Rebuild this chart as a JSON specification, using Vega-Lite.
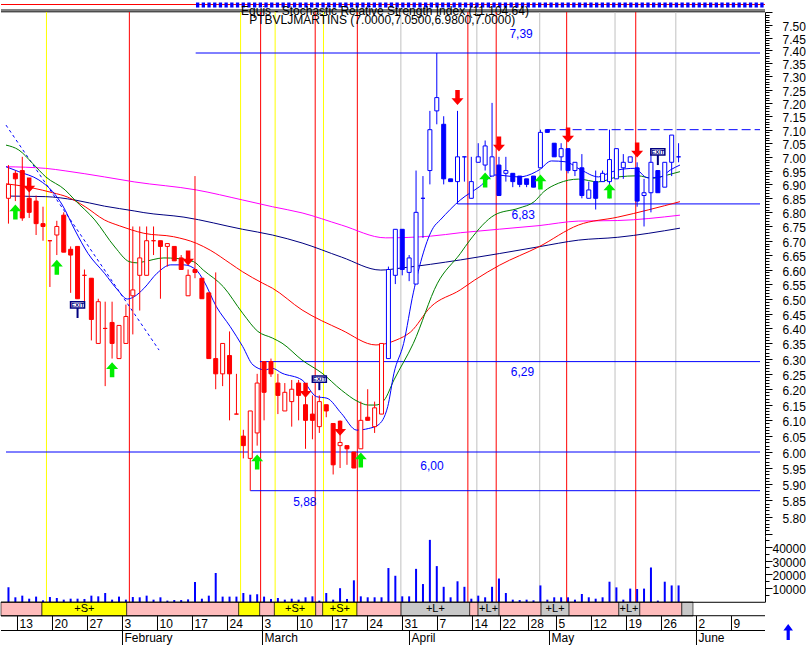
{
"$schema": "https://vega.github.io/schema/vega-lite/v6.json",
"padding": 0, "spacing": 0, "bounds": "flush", "background": "white",
"config": {"view": {"stroke": null}, "text": {"font": "Liberation Sans"}, "axis": {"labelFont": "Liberation Sans"}},
"datasets": {
"c": [
{"k":0,"o":6.85,"h":6.97,"l":6.76,"c":6.90,"v":10600},{"k":1,"o":6.94,"h":6.95,"l":6.84,"c":6.92,"v":3400},{"k":2,"o":6.95,"h":7.00,"l":6.77,"c":6.78,"v":4600},{"k":3,"o":6.85,"h":6.89,"l":6.78,"c":6.80,"v":2400},{"k":4,"o":6.84,"h":6.86,"l":6.72,"c":6.76,"v":3900},{"k":5,"o":6.76,"h":6.82,"l":6.70,"c":6.75,"v":1200},{"k":6,"o":6.70,"h":6.70,"l":6.54,"c":6.70,"v":3600},{"k":7,"o":6.72,"h":6.77,"l":6.65,"c":6.75,"v":2900},{"k":8,"o":6.79,"h":6.80,"l":6.66,"c":6.66,"v":1700},{"k":9,"o":6.67,"h":6.68,"l":6.52,"c":6.65,"v":2400},
{"k":10,"o":6.68,"h":6.68,"l":6.50,"c":6.50,"v":2400},{"k":11,"o":6.58,"h":6.60,"l":6.49,"c":6.58,"v":2200},{"k":12,"o":6.57,"h":6.57,"l":6.36,"c":6.43,"v":4600},{"k":13,"o":6.35,"h":6.50,"l":6.35,"c":6.49,"v":4100},{"k":14,"o":6.40,"h":6.49,"l":6.21,"c":6.40,"v":6500},{"k":15,"o":6.42,"h":6.49,"l":6.30,"c":6.35,"v":1700},{"k":16,"o":6.30,"h":6.41,"l":6.30,"c":6.41,"v":3900},{"k":17,"o":6.35,"h":6.48,"l":6.35,"c":6.44,"v":1700},{"k":18,"o":6.51,"h":6.75,"l":6.38,"c":6.53,"v":3600},{"k":19,"o":6.58,"h":6.75,"l":6.46,"c":6.64,"v":3400},
{"k":20,"o":6.58,"h":6.75,"l":6.58,"c":6.70,"v":4600},{"k":21,"o":6.70,"h":6.75,"l":6.65,"c":6.70,"v":1700},{"k":22,"o":6.70,"h":6.70,"l":6.50,"c":6.68,"v":3400},{"k":23,"o":6.68,"h":6.69,"l":6.61,"c":6.69,"v":1000},{"k":24,"o":6.68,"h":6.68,"l":6.63,"c":6.63,"v":1400},{"k":25,"o":6.64,"h":6.65,"l":6.60,"c":6.60,"v":1400},{"k":26,"o":6.51,"h":6.60,"l":6.51,"c":6.58,"v":1900},{"k":27,"o":6.60,"h":6.93,"l":6.57,"c":6.59,"v":14500},{"k":28,"o":6.57,"h":6.57,"l":6.50,"c":6.50,"v":2400},{"k":29,"o":6.52,"h":6.52,"l":6.30,"c":6.30,"v":4600},
{"k":30,"o":6.30,"h":6.59,"l":6.20,"c":6.25,"v":21000},{"k":31,"o":6.25,"h":6.35,"l":6.21,"c":6.35,"v":3900},{"k":32,"o":6.31,"h":6.39,"l":6.10,"c":6.25,"v":3900},{"k":33,"o":6.12,"h":6.25,"l":6.12,"c":6.12,"v":3900},{"k":34,"o":6.05,"h":6.07,"l":5.98,"c":6.02,"v":6500},{"k":35,"o":5.98,"h":6.13,"l":5.88,"c":6.13,"v":5300},{"k":36,"o":6.06,"h":6.25,"l":6.02,"c":6.22,"v":5600},{"k":37,"o":6.29,"h":6.29,"l":6.10,"c":6.19,"v":3900},{"k":38,"o":6.29,"h":6.30,"l":6.24,"c":6.25,"v":2200},{"k":39,"o":6.22,"h":6.25,"l":6.12,"c":6.18,"v":2900},
{"k":40,"o":6.13,"h":6.22,"l":6.13,"c":6.19,"v":1700},{"k":41,"o":6.16,"h":6.23,"l":6.08,"c":6.20,"v":2400},{"k":42,"o":6.22,"h":6.23,"l":6.10,"c":6.18,"v":1700},{"k":43,"o":6.15,"h":6.18,"l":6.01,"c":6.10,"v":3400},{"k":44,"o":6.12,"h":6.18,"l":6.04,"c":6.10,"v":4100},{"k":45,"o":6.08,"h":6.18,"l":6.06,"c":6.16,"v":1000},{"k":46,"o":6.15,"h":6.15,"l":6.11,"c":6.13,"v":6500},{"k":47,"o":6.09,"h":6.09,"l":5.93,"c":5.96,"v":1700},{"k":48,"o":6.02,"h":6.10,"l":5.95,"c":6.03,"v":10000},{"k":49,"o":6.02,"h":6.02,"l":5.96,"c":6.01,"v":2200},
{"k":50,"o":6.00,"h":6.00,"l":5.95,"c":5.95,"v":15700},{"k":51,"o":6.01,"h":6.16,"l":6.01,"c":6.10,"v":4100},{"k":52,"o":6.11,"h":6.20,"l":6.10,"c":6.10,"v":3400},{"k":53,"o":6.08,"h":6.16,"l":6.06,"c":6.14,"v":3400},{"k":54,"o":6.12,"h":6.35,"l":6.12,"c":6.35,"v":3400},{"k":55,"o":6.30,"h":6.61,"l":6.30,"c":6.60,"v":24600},{"k":56,"o":6.58,"h":6.74,"l":6.55,"c":6.74,"v":19000},{"k":57,"o":6.74,"h":6.74,"l":6.58,"c":6.60,"v":4100},{"k":58,"o":6.59,"h":6.65,"l":6.56,"c":6.64,"v":4100},{"k":59,"o":6.55,"h":6.95,"l":6.55,"c":6.80,"v":24000},
{"k":60,"o":6.85,"h":6.93,"l":6.71,"c":6.85,"v":13000},{"k":61,"o":6.95,"h":7.17,"l":6.90,"c":7.10,"v":45000},{"k":62,"o":7.17,"h":7.39,"l":7.12,"c":7.22,"v":26000},{"k":63,"o":7.12,"h":7.15,"l":6.90,"c":6.92,"v":11000},{"k":64,"o":6.92,"h":6.92,"l":6.91,"c":6.91,"v":3400},{"k":65,"o":6.91,"h":7.17,"l":6.83,"c":7.00,"v":15000},{"k":66,"o":7.00,"h":7.00,"l":6.91,"c":7.00,"v":11000},{"k":67,"o":6.85,"h":7.00,"l":6.85,"c":6.91,"v":2400},{"k":68,"o":6.98,"h":7.05,"l":6.98,"c":7.00,"v":4600},{"k":69,"o":6.97,"h":7.06,"l":6.95,"c":7.04,"v":3400},
{"k":70,"o":6.93,"h":7.20,"l":6.93,"c":7.00,"v":11000},{"k":71,"o":6.97,"h":7.00,"l":6.86,"c":6.86,"v":17000},{"k":72,"o":6.94,"h":7.00,"l":6.91,"c":6.95,"v":6500},{"k":73,"o":6.94,"h":6.94,"l":6.89,"c":6.91,"v":1700},{"k":74,"o":6.93,"h":6.93,"l":6.89,"c":6.90,"v":1400},{"k":75,"o":6.92,"h":6.92,"l":6.89,"c":6.90,"v":1700},{"k":76,"o":6.93,"h":6.93,"l":6.89,"c":6.89,"v":1200},{"k":77,"o":6.96,"h":7.10,"l":6.96,"c":7.09,"v":12000},{"k":78,"o":7.10,"h":7.10,"l":7.09,"c":7.09,"v":1700},{"k":79,"o":7.05,"h":7.05,"l":7.00,"c":7.00,"v":3400},
{"k":80,"o":7.00,"h":7.05,"l":6.95,"c":7.03,"v":3400},{"k":81,"o":7.03,"h":7.03,"l":6.94,"c":6.95,"v":3400},{"k":82,"o":6.95,"h":6.98,"l":6.93,"c":6.98,"v":1700},{"k":83,"o":6.96,"h":7.01,"l":6.85,"c":6.86,"v":5800},{"k":84,"o":6.85,"h":6.91,"l":6.85,"c":6.88,"v":3400},{"k":85,"o":6.91,"h":6.95,"l":6.81,"c":6.85,"v":2400},{"k":86,"o":6.91,"h":6.95,"l":6.91,"c":6.94,"v":3400},{"k":87,"o":6.91,"h":7.10,"l":6.85,"c":6.99,"v":14700},{"k":88,"o":6.92,"h":7.03,"l":6.92,"c":7.03,"v":10600},{"k":89,"o":6.96,"h":7.01,"l":6.92,"c":6.98,"v":1700},
{"k":90,"o":6.98,"h":7.00,"l":6.98,"c":7.00,"v":9700},{"k":91,"o":6.96,"h":6.98,"l":6.82,"c":6.84,"v":9400},{"k":92,"o":6.86,"h":6.92,"l":6.75,"c":6.87,"v":9700},{"k":93,"o":6.87,"h":7.03,"l":6.80,"c":6.98,"v":25000},{"k":94,"o":6.95,"h":6.95,"l":6.87,"c":6.87,"v":1000},{"k":95,"o":6.89,"h":6.98,"l":6.89,"c":6.98,"v":14700},{"k":96,"o":6.98,"h":7.08,"l":6.93,"c":7.08,"v":12000},{"k":97,"o":7.00,"h":7.05,"l":6.98,"c":7.00,"v":12000}
],
"vl": [
{"k":5.5,"t":"y"},{"k":33.6,"t":"y"},{"k":38.6,"t":"y"},{"k":45.6,"t":"y"},
{"k":17.5,"t":"r"},{"k":36.5,"t":"r"},{"k":44.4,"t":"r"},{"k":50.5,"t":"r"},{"k":66.5,"t":"r"},{"k":70.6,"t":"r"},{"k":80.8,"t":"r"},{"k":90.8,"t":"r"},
{"k":56.8,"t":"g"},{"k":67.8,"t":"g"},{"k":76.9,"t":"g"},{"k":87.8,"t":"g"},{"k":96.6,"t":"g"}
],
"hl": [
{"k":27.1,"k2":108.786,"p":7.39},{"k":65,"k2":108.786,"p":6.83},{"k":36.4,"k2":108.786,"p":6.29},{"k":-0.357,"k2":108.786,"p":6.0},{"k":35,"k2":108.786,"p":5.88}
],
"hd": [{"k":77.9,"k2":108.786,"p":7.10}],
"lv": [
{"k":74.2,"p":7.464,"t":"7,39"},{"k":74.5,"p":6.79,"t":"6,83"},{"k":74.4,"p":6.256,"t":"6,29"},{"k":61.3,"p":5.956,"t":"6,00"},{"k":42.9,"p":5.845,"t":"5,88"}
],
"tr": [{"k":-0.357,"p":7.117},{"k":21.8,"p":6.328}],
"ma": [
{"s":"m","k":-0.357,"p":6.964},{"s":"m","k":5.36,"p":6.958},{"s":"m","k":8.2,"p":6.949},{"s":"m","k":13.9,"p":6.927},{"s":"m","k":18.2,"p":6.909},{"s":"m","k":27.2,"p":6.88},{"s":"m","k":33.9,"p":6.844},{"s":"m","k":38.2,"p":6.82},{"s":"m","k":42.5,"p":6.798},{"s":"m","k":48.2,"p":6.755},{"s":"m","k":54.6,"p":6.71},{"s":"m","k":61.1,"p":6.716},{"s":"m","k":65.4,"p":6.728},{"s":"m","k":76.8,"p":6.753},{"s":"m","k":82.5,"p":6.769},{"s":"m","k":88.2,"p":6.771},{"s":"m","k":97.2,"p":6.79},
{"s":"n","k":-0.357,"p":6.858},{"s":"n","k":5.36,"p":6.856},{"s":"n","k":9.6,"p":6.844},{"s":"n","k":13.9,"p":6.822},{"s":"n","k":18.2,"p":6.805},{"s":"n","k":19.6,"p":6.799},{"s":"n","k":25.4,"p":6.783},{"s":"n","k":33.9,"p":6.74},{"s":"n","k":38.2,"p":6.72},{"s":"n","k":42.5,"p":6.692},{"s":"n","k":48.2,"p":6.643},{"s":"n","k":53.9,"p":6.598},{"s":"n","k":56.8,"p":6.605},{"s":"n","k":65.4,"p":6.633},{"s":"n","k":76.8,"p":6.679},{"s":"n","k":82.5,"p":6.702},{"s":"n","k":88.2,"p":6.712},{"s":"n","k":97.2,"p":6.744},
{"s":"r","k":-0.357,"p":6.902},{"s":"r","k":2.5,"p":6.892},{"s":"r","k":3.5,"p":6.887},{"s":"r","k":6.4,"p":6.87},{"s":"r","k":8.6,"p":6.854},{"s":"r","k":11.1,"p":6.82},{"s":"r","k":13.9,"p":6.773},{"s":"r","k":16.1,"p":6.752},{"s":"r","k":17.8,"p":6.738},{"s":"r","k":19.6,"p":6.726},{"s":"r","k":23.9,"p":6.714},{"s":"r","k":27.2,"p":6.691},{"s":"r","k":29.2,"p":6.667},{"s":"r","k":32.1,"p":6.621},{"s":"r","k":33.9,"p":6.592},{"s":"r","k":36.8,"p":6.553},{"s":"r","k":38.2,"p":6.536},{"s":"r","k":42.5,"p":6.462},{"s":"r","k":48.2,"p":6.395},{"s":"r","k":53.2,"p":6.345},{"s":"r","k":56.1,"p":6.361},{"s":"r","k":58.2,"p":6.388},{"s":"r","k":61.1,"p":6.472},{"s":"r","k":65.4,"p":6.53},{"s":"r","k":67.5,"p":6.564},{"s":"r","k":71.1,"p":6.615},{"s":"r","k":76.8,"p":6.679},{"s":"r","k":82.5,"p":6.755},{"s":"r","k":88.2,"p":6.783},{"s":"r","k":97.2,"p":6.838},
{"s":"g","k":-0.357,"p":7.043},{"s":"g","k":1.5,"p":7.025},{"s":"g","k":3.5,"p":6.976},{"s":"g","k":5.4,"p":6.927},{"s":"g","k":8.2,"p":6.88},{"s":"g","k":9.6,"p":6.844},{"s":"g","k":12.5,"p":6.773},{"s":"g","k":15.4,"p":6.678},{"s":"g","k":17.5,"p":6.627},{"s":"g","k":18.6,"p":6.623},{"s":"g","k":19.6,"p":6.627},{"s":"g","k":22.5,"p":6.64},{"s":"g","k":24.4,"p":6.638},{"s":"g","k":26.8,"p":6.627},{"s":"g","k":28.2,"p":6.598},{"s":"g","k":31.1,"p":6.541},{"s":"g","k":33.9,"p":6.451},{"s":"g","k":36.1,"p":6.39},{"s":"g","k":38.2,"p":6.368},{"s":"g","k":39.6,"p":6.351},{"s":"g","k":42.5,"p":6.295},{"s":"g","k":45.4,"p":6.252},{"s":"g","k":48.2,"p":6.197},{"s":"g","k":50.6,"p":6.16},{"s":"g","k":52.1,"p":6.149},{"s":"g","k":53.2,"p":6.149},{"s":"g","k":54.4,"p":6.165},{"s":"g","k":55.8,"p":6.23},{"s":"g","k":58.6,"p":6.35},{"s":"g","k":62.1,"p":6.553},{"s":"g","k":65.4,"p":6.655},{"s":"g","k":66.8,"p":6.702},{"s":"g","k":70.4,"p":6.791},{"s":"g","k":73.9,"p":6.815},{"s":"g","k":76.1,"p":6.838},{"s":"g","k":77.5,"p":6.874},{"s":"g","k":79.6,"p":6.904},{"s":"g","k":82.5,"p":6.919},{"s":"g","k":85.4,"p":6.909},{"s":"g","k":88.2,"p":6.927},{"s":"g","k":91.1,"p":6.931},{"s":"g","k":93.2,"p":6.922},{"s":"g","k":95.4,"p":6.934},{"s":"g","k":97.2,"p":6.946},
{"s":"b","k":-0.357,"p":6.964},{"s":"b","k":1.5,"p":6.946},{"s":"b","k":4.4,"p":6.916},{"s":"b","k":6.4,"p":6.874},{"s":"b","k":7.8,"p":6.826},{"s":"b","k":9.6,"p":6.738},{"s":"b","k":11.5,"p":6.656},{"s":"b","k":13.9,"p":6.587},{"s":"b","k":15.8,"p":6.53},{"s":"b","k":17.2,"p":6.499},{"s":"b","k":18.2,"p":6.507},{"s":"b","k":19.6,"p":6.535},{"s":"b","k":21.5,"p":6.587},{"s":"b","k":23.5,"p":6.616},{"s":"b","k":25.4,"p":6.616},{"s":"b","k":27.2,"p":6.598},{"s":"b","k":28.2,"p":6.564},{"s":"b","k":30.1,"p":6.473},{"s":"b","k":32.1,"p":6.406},{"s":"b","k":33.9,"p":6.34},{"s":"b","k":35.4,"p":6.279},{"s":"b","k":37.1,"p":6.263},{"s":"b","k":38.2,"p":6.268},{"s":"b","k":39.6,"p":6.252},{"s":"b","k":42.5,"p":6.23},{"s":"b","k":44.6,"p":6.176},{"s":"b","k":46.1,"p":6.171},{"s":"b","k":48.2,"p":6.122},{"s":"b","k":50.4,"p":6.069},{"s":"b","k":52.1,"p":6.074},{"s":"b","k":53.5,"p":6.085},{"s":"b","k":54.9,"p":6.144},{"s":"b","k":55.8,"p":6.252},{"s":"b","k":57.2,"p":6.35},{"s":"b","k":58.6,"p":6.52},{"s":"b","k":61.5,"p":6.746},{"s":"b","k":62.5,"p":6.773},{"s":"b","k":65.4,"p":6.844},{"s":"b","k":68.2,"p":6.892},{"s":"b","k":70.4,"p":6.934},{"s":"b","k":73.9,"p":6.927},{"s":"b","k":76.8,"p":6.952},{"s":"b","k":78.6,"p":6.985},{"s":"b","k":80.6,"p":6.982},{"s":"b","k":82.9,"p":6.952},{"s":"b","k":85.4,"p":6.927},{"s":"b","k":86.8,"p":6.94},{"s":"b","k":88.2,"p":6.952},{"s":"b","k":90.6,"p":6.958},{"s":"b","k":92.5,"p":6.924},{"s":"b","k":94.4,"p":6.927},{"s":"b","k":95.8,"p":6.952},{"s":"b","k":97.2,"p":6.97}
],
"au": [{"k":1,"p":6.801},{"k":7,"p":6.608},{"k":15,"p":6.263},{"k":36,"p":5.969},{"k":51,"p":5.975},{"k":69,"p":6.916},{"k":77,"p":6.909},{"k":87,"p":6.876}],
"ad": [{"k":3,"p":6.898},{"k":26,"p":6.64},{"k":43,"p":6.197},{"k":48,"p":6.075},{"k":65,"p":7.22},{"k":71,"p":7.047},{"k":81,"p":7.08},{"k":91,"p":7.025}],
"ex": [{"k":10,"p":6.479,"p2":6.469,"p3":6.435},{"k":45,"p":6.233,"p2":6.224,"p3":6.197},{"k":94,"p":7.018,"p2":7.007,"p3":6.97}],
"tt": [{"k":54.1,"p":7.518,"t":"PTBVLJMARTINS (7.0000,7.0500,6.9800,7.0000)"}],
"bd": [
{"k":-0.357,"k2":5.5,"b":"h"},{"k":5.5,"k2":17.6,"b":"s"},{"k":17.6,"k2":33.6,"b":"h"},{"k":33.6,"k2":36.6,"b":"s"},{"k":36.6,"k2":38.7,"b":"h"},{"k":38.7,"k2":44.6,"b":"s"},{"k":44.6,"k2":45.6,"b":"h"},{"k":45.6,"k2":50.5,"b":"s"},{"k":50.5,"k2":56.8,"b":"h"},{"k":56.8,"k2":66.6,"b":"l"},{"k":66.6,"k2":67.8,"b":"h"},{"k":67.8,"k2":70.8,"b":"l"},{"k":70.8,"k2":76.8,"b":"h"},{"k":76.8,"k2":80.8,"b":"l"},{"k":80.8,"k2":87.9,"b":"h"},{"k":87.9,"k2":90.9,"b":"l"},{"k":90.9,"k2":96.9,"b":"h"},{"k":96.9,"k2":98.5,"b":"l"}
],
"bt": [{"k":11.55,"t":"+S+"},{"k":41.65,"t":"+S+"},{"k":48.05,"t":"+S+"},{"k":61.7,"t":"+L+"},{"k":69.3,"t":"+L+"},{"k":78.8,"t":"+L+"},{"k":89.35,"t":"+L+"}],
"dd": [{"k":2,"t":"13"},{"k":7,"t":"20"},{"k":12,"t":"27"},{"k":17,"t":"3"},{"k":22,"t":"10"},{"k":27,"t":"17"},{"k":32,"t":"24"},{"k":37,"t":"3"},{"k":42,"t":"10"},{"k":47,"t":"17"},{"k":52,"t":"24"},{"k":57,"t":"31"},{"k":62,"t":"7"},{"k":67,"t":"14"},{"k":71,"t":"22"},{"k":75,"t":"28"},{"k":79,"t":"5"},{"k":84,"t":"12"},{"k":89,"t":"19"},{"k":94,"t":"26"},{"k":99,"t":"2"},{"k":104,"t":"9"}],
"mm": [{"k":17,"t":"February"},{"k":37,"t":"March"},{"k":58,"t":"April"},{"k":78,"t":"May"},{"k":99,"t":"June"}]
},
"vconcat": [
{
 "width": 764, "height": 12,
 "data": {"values": [{"a": 1}]},
 "layer": [
  {"mark": {"type": "rule", "color": "#ff0000", "strokeWidth": 1}, "encoding": {"y": {"datum": 4.5, "type": "quantitative", "scale": {"domain": [0, 12], "reverse": true, "nice": false}, "axis": null}}},
  {"mark": {"type": "rule", "color": "#0000ff", "strokeWidth": 5, "strokeDash": [3.3, 2.4]}, "encoding": {"x": {"datum": 27.5, "type": "quantitative", "scale": {"domain": [-0.357, 108.786], "nice": false, "zero": false}, "axis": null}, "x2": {"datum": 108.786}, "y": {"datum": 5, "type": "quantitative", "axis": null}}},
  {"mark": {"type": "rule", "color": "#000000", "strokeWidth": 1}, "encoding": {"y": {"datum": 10, "type": "quantitative", "axis": null}}},
  {"mark": {"type": "rule", "color": "#000000", "strokeWidth": 1}, "encoding": {"y": {"datum": 11.8, "type": "quantitative", "axis": null}}},
  {"mark": {"type": "text", "fontSize": 12, "color": "#000000", "align": "center", "baseline": "middle"}, "encoding": {"x": {"datum": 54.5, "type": "quantitative", "axis": null}, "y": {"datum": 10.5, "type": "quantitative", "axis": null}, "text": {"value": "Equis - Stochastic Relative Strength Index (11,104.64)"}}}
 ]
},
{
 "width": 764, "height": 524,
 "layer": [
  {"data": {"name": "vl"}, "mark": {"type": "rule", "strokeWidth": 1},
   "encoding": {"x": {"field": "k", "type": "quantitative", "scale": {"domain": [-0.357, 108.786], "nice": false, "zero": false}, "axis": null},
    "color": {"field": "t", "type": "nominal", "scale": {"domain": ["r", "y", "g"], "range": ["#ff0000", "#ffff00", "#c0c0c0"]}, "legend": null}}},
  {"data": {"name": "hl"}, "mark": {"type": "rule", "color": "#0000ff", "strokeWidth": 1},
   "encoding": {"x": {"field": "k", "type": "quantitative", "scale": {"domain": [-0.357, 108.786], "nice": false, "zero": false}, "axis": null}, "x2": {"field": "k2"},
    "y": {"field": "p", "type": "quantitative", "scale": {"type": "log", "domain": [5.7425, 7.55], "nice": false},
     "axis": {"orient": "right", "title": null, "grid": false, "domainColor": "#000000", "tickColor": "#000000", "labelColor": "#000000", "labelFontSize": 12, "labelPadding": 10, "labelOffset": 1.5, "labelOverlap": false, "labelFlush": false, "labelBound": false,
      "values": [5.75,5.76,5.77,5.78,5.79,5.8,5.81,5.82,5.83,5.84,5.85,5.86,5.87,5.88,5.89,5.9,5.91,5.92,5.93,5.94,5.95,5.96,5.97,5.98,5.99,6,6.01,6.02,6.03,6.04,6.05,6.06,6.07,6.08,6.09,6.1,6.11,6.12,6.13,6.14,6.15,6.16,6.17,6.18,6.19,6.2,6.21,6.22,6.23,6.24,6.25,6.26,6.27,6.28,6.29,6.3,6.31,6.32,6.33,6.34,6.35,6.36,6.37,6.38,6.39,6.4,6.41,6.42,6.43,6.44,6.45,6.46,6.47,6.48,6.49,6.5,6.51,6.52,6.53,6.54,6.55,6.56,6.57,6.58,6.59,6.6,6.61,6.62,6.63,6.64,6.65,6.66,6.67,6.68,6.69,6.7,6.71,6.72,6.73,6.74,6.75,6.76,6.77,6.78,6.79,6.8,6.81,6.82,6.83,6.84,6.85,6.86,6.87,6.88,6.89,6.9,6.91,6.92,6.93,6.94,6.95,6.96,6.97,6.98,6.99,7,7.01,7.02,7.03,7.04,7.05,7.06,7.07,7.08,7.09,7.1,7.11,7.12,7.13,7.14,7.15,7.16,7.17,7.18,7.19,7.2,7.21,7.22,7.23,7.24,7.25,7.26,7.27,7.28,7.29,7.3,7.31,7.32,7.33,7.34,7.35,7.36,7.37,7.38,7.39,7.4,7.41,7.42,7.43,7.44,7.45,7.46,7.47,7.48,7.49,7.5,7.51,7.52,7.53,7.54,7.55],
      "labelExpr": "abs(datum.value*20 - round(datum.value*20)) < 0.001 && datum.value > 5.79 && datum.value < 7.51 ? format(datum.value, '.2f') : ''",
      "tickSize": {"condition": {"test": "abs(datum.value*20 - round(datum.value*20)) < 0.001", "value": 7}, "value": 4}}}}},
  {"data": {"name": "hd"}, "mark": {"type": "rule", "color": "#0000ff", "strokeWidth": 1, "strokeDash": [9, 4]},
   "encoding": {"x": {"field": "k", "type": "quantitative", "scale": {"domain": [-0.357, 108.786], "nice": false, "zero": false}, "axis": null}, "x2": {"field": "k2"},
    "y": {"field": "p", "type": "quantitative", "scale": {"type": "log", "domain": [5.7425, 7.55], "nice": false}, "title": null}}},
  {"data": {"name": "tr"}, "mark": {"type": "line", "color": "#0000ff", "strokeWidth": 1, "strokeDash": [3, 3]},
   "encoding": {"x": {"field": "k", "type": "quantitative", "scale": {"domain": [-0.357, 108.786], "nice": false, "zero": false}, "axis": null},
    "y": {"field": "p", "type": "quantitative", "scale": {"type": "log", "domain": [5.7425, 7.55], "nice": false}, "title": null}}},
  {"data": {"name": "ma"}, "mark": {"type": "line", "strokeWidth": 1, "interpolate": "monotone"},
   "encoding": {"x": {"field": "k", "type": "quantitative", "scale": {"domain": [-0.357, 108.786], "nice": false, "zero": false}, "axis": null},
    "y": {"field": "p", "type": "quantitative", "scale": {"type": "log", "domain": [5.7425, 7.55], "nice": false}, "title": null},
    "stroke": {"field": "s", "type": "nominal", "scale": {"domain": ["m", "n", "r", "g", "b"], "range": ["#ff00ff", "#000080", "#ff0000", "#008000", "#0000ff"]}, "legend": null}}},
  {"data": {"name": "c"}, "mark": {"type": "rule", "strokeWidth": 1},
   "encoding": {"x": {"field": "k", "type": "quantitative", "scale": {"domain": [-0.357, 108.786], "nice": false, "zero": false}, "axis": null},
    "y": {"field": "l", "type": "quantitative", "scale": {"type": "log", "domain": [5.7425, 7.55], "nice": false}, "title": null}, "y2": {"field": "h"},
    "color": {"condition": {"test": "datum.k >= 55", "value": "#0000ff"}, "value": "#ff0000"}}},
  {"data": {"name": "c"}, "mark": {"type": "bar", "width": 4, "strokeWidth": 1},
   "encoding": {"x": {"field": "k", "type": "quantitative", "scale": {"domain": [-0.357, 108.786], "nice": false, "zero": false}, "axis": null},
    "y": {"field": "o", "type": "quantitative", "scale": {"type": "log", "domain": [5.7425, 7.55], "nice": false}, "title": null}, "y2": {"field": "c"},
    "fill": {"condition": [{"test": "datum.c > datum.o", "value": "#ffffff"}, {"test": "datum.k >= 55", "value": "#0000ff"}], "value": "#ff0000"},
    "stroke": {"condition": {"test": "datum.k >= 55", "value": "#0000ff"}, "value": "#ff0000"}}},
  {"data": {"name": "au"}, "mark": {"type": "point", "shape": "M0,-1L0.8,-0.1L0.3,-0.1L0.3,1L-0.3,1L-0.3,-0.1L-0.8,-0.1Z", "filled": true, "size": 225, "color": "#00ee00", "opacity": 1},
   "encoding": {"x": {"field": "k", "type": "quantitative", "scale": {"domain": [-0.357, 108.786], "nice": false, "zero": false}, "axis": null},
    "y": {"field": "p", "type": "quantitative", "scale": {"type": "log", "domain": [5.7425, 7.55], "nice": false}, "title": null}}},
  {"data": {"name": "ad"}, "mark": {"type": "point", "shape": "M0,1L0.8,0.1L0.3,0.1L0.3,-1L-0.3,-1L-0.3,0.1L-0.8,0.1Z", "filled": true, "size": 225, "color": "#ff0000", "opacity": 1},
   "encoding": {"x": {"field": "k", "type": "quantitative", "scale": {"domain": [-0.357, 108.786], "nice": false, "zero": false}, "axis": null},
    "y": {"field": "p", "type": "quantitative", "scale": {"type": "log", "domain": [5.7425, 7.55], "nice": false}, "title": null}}},
  {"data": {"name": "ex"}, "mark": {"type": "rule", "color": "#000080", "strokeWidth": 2},
   "encoding": {"x": {"field": "k", "type": "quantitative", "scale": {"domain": [-0.357, 108.786], "nice": false, "zero": false}, "axis": null},
    "y": {"field": "p2", "type": "quantitative", "scale": {"type": "log", "domain": [5.7425, 7.55], "nice": false}, "title": null}, "y2": {"field": "p3"}}},
  {"data": {"name": "ex"}, "mark": {"type": "point", "shape": "M-1,-0.45L1,-0.45L1,0.45L-1,0.45Z", "filled": false, "fill": "#ffffff", "stroke": "#000080", "strokeWidth": 1.5, "size": 196, "opacity": 1},
   "encoding": {"x": {"field": "k", "type": "quantitative", "scale": {"domain": [-0.357, 108.786], "nice": false, "zero": false}, "axis": null},
    "y": {"field": "p", "type": "quantitative", "scale": {"type": "log", "domain": [5.7425, 7.55], "nice": false}, "title": null}}},
  {"data": {"name": "ex"}, "mark": {"type": "text", "fontSize": 6, "fontWeight": "bold", "color": "#000080", "align": "center", "baseline": "middle"},
   "encoding": {"x": {"field": "k", "type": "quantitative", "scale": {"domain": [-0.357, 108.786], "nice": false, "zero": false}, "axis": null},
    "y": {"field": "p", "type": "quantitative", "scale": {"type": "log", "domain": [5.7425, 7.55], "nice": false}, "title": null}, "text": {"value": "EXIT"}}},
  {"data": {"name": "lv"}, "mark": {"type": "text", "fontSize": 12, "color": "#0000ff", "align": "center", "baseline": "middle"},
   "encoding": {"x": {"field": "k", "type": "quantitative", "scale": {"domain": [-0.357, 108.786], "nice": false, "zero": false}, "axis": null},
    "y": {"field": "p", "type": "quantitative", "scale": {"type": "log", "domain": [5.7425, 7.55], "nice": false}, "title": null}, "text": {"field": "t"}}},
  {"data": {"name": "tt"}, "mark": {"type": "text", "fontSize": 12, "color": "#000000", "align": "center", "baseline": "middle"},
   "encoding": {"x": {"field": "k", "type": "quantitative", "scale": {"domain": [-0.357, 108.786], "nice": false, "zero": false}, "axis": null},
    "y": {"field": "p", "type": "quantitative", "scale": {"type": "log", "domain": [5.7425, 7.55], "nice": false}, "title": null}, "text": {"field": "t"}}}
 ]
},
{
 "width": 764, "height": 66,
 "layer": [
  {"data": {"name": "vl"}, "mark": {"type": "rule", "strokeWidth": 1},
   "encoding": {"x": {"field": "k", "type": "quantitative", "scale": {"domain": [-0.357, 108.786], "nice": false, "zero": false}, "axis": null},
    "color": {"field": "t", "type": "nominal", "scale": {"domain": ["r", "y", "g"], "range": ["#ff0000", "#ffff00", "#c0c0c0"]}, "legend": null}}},
  {"data": {"name": "c"}, "mark": {"type": "bar", "width": 2, "color": "#0000ff"},
   "encoding": {"x": {"field": "k", "type": "quantitative", "scale": {"domain": [-0.357, 108.786], "nice": false, "zero": false}, "axis": null},
    "y": {"field": "v", "type": "quantitative", "scale": {"domain": [0, 47800], "nice": false},
     "axis": {"orient": "right", "title": null, "grid": false, "domainColor": "#000000", "tickColor": "#000000", "labelColor": "#000000", "labelFontSize": 12, "labelPadding": 0, "labelOffset": 1.5, "labelOverlap": false, "labelFlush": false, "labelBound": false,
      "values": [5000, 10000, 15000, 20000, 25000, 30000, 35000, 40000, 45000],
      "labelExpr": "datum.value % 10000 == 0 ? format(datum.value, 'd') : ''",
      "tickSize": {"condition": {"test": "datum.value % 10000 == 0", "value": 7}, "value": 4}}}}}
 ]
},
{
 "width": 764, "height": 14,
 "layer": [
  {"data": {"name": "bd"}, "mark": {"type": "rect", "stroke": "#000000", "strokeWidth": 0.6},
   "encoding": {"x": {"field": "k", "type": "quantitative", "scale": {"domain": [-0.357, 108.786], "nice": false, "zero": false}, "axis": null}, "x2": {"field": "k2"},
    "y": {"datum": 0, "type": "quantitative", "scale": {"domain": [0, 1], "reverse": true, "nice": false}, "axis": null}, "y2": {"datum": 1},
    "fill": {"field": "b", "type": "nominal", "scale": {"domain": ["h", "s", "l"], "range": ["#ffbcbc", "#ffff00", "#c8c8c8"]}, "legend": null}}},
  {"data": {"name": "bt"}, "mark": {"type": "text", "fontSize": 11, "color": "#000000", "align": "center", "baseline": "middle"},
   "encoding": {"x": {"field": "k", "type": "quantitative", "scale": {"domain": [-0.357, 108.786], "nice": false, "zero": false}, "axis": null},
    "y": {"datum": 0.5, "type": "quantitative", "axis": null}, "text": {"field": "t"}}},
  {"data": {"values": [{"a": 0}]}, "mark": {"type": "rule", "color": "#000000", "strokeWidth": 1}, "encoding": {"y": {"datum": 0.02, "type": "quantitative", "axis": null}}},
  {"data": {"values": [{"a": 0}]}, "mark": {"type": "rule", "color": "#000000", "strokeWidth": 1}, "encoding": {"y": {"datum": 0.98, "type": "quantitative", "axis": null}}}
 ]
},
{
 "width": 764, "height": 29,
 "layer": [
  {"data": {"values": [{"a": 0}]}, "mark": {"type": "rule", "color": "#000000", "strokeWidth": 1},
   "encoding": {"y": {"datum": 14.5, "type": "quantitative", "scale": {"domain": [0, 29], "reverse": true, "nice": false}, "axis": null}}},
  {"data": {"name": "dd"}, "mark": {"type": "rule", "color": "#000000", "strokeWidth": 1},
   "encoding": {"x": {"field": "k", "type": "quantitative", "scale": {"domain": [-0.357, 108.786], "nice": false, "zero": false}, "axis": null},
    "y": {"datum": 0, "type": "quantitative", "axis": null}, "y2": {"datum": 14.5}}},
  {"data": {"name": "dd"}, "mark": {"type": "text", "fontSize": 12, "color": "#000000", "align": "left", "baseline": "middle", "dx": 2},
   "encoding": {"x": {"field": "k", "type": "quantitative", "scale": {"domain": [-0.357, 108.786], "nice": false, "zero": false}, "axis": null},
    "y": {"datum": 7.5, "type": "quantitative", "axis": null}, "text": {"field": "t"}}},
  {"data": {"name": "mm"}, "mark": {"type": "rule", "color": "#000000", "strokeWidth": 1},
   "encoding": {"x": {"field": "k", "type": "quantitative", "scale": {"domain": [-0.357, 108.786], "nice": false, "zero": false}, "axis": null},
    "y": {"datum": 14.5, "type": "quantitative", "axis": null}, "y2": {"datum": 29}}},
  {"data": {"name": "mm"}, "mark": {"type": "text", "fontSize": 12, "color": "#000000", "align": "left", "baseline": "middle", "dx": 2},
   "encoding": {"x": {"field": "k", "type": "quantitative", "scale": {"domain": [-0.357, 108.786], "nice": false, "zero": false}, "axis": null},
    "y": {"datum": 22, "type": "quantitative", "axis": null}, "text": {"field": "t"}}},
  {"data": {"values": [{"k": 112.1}]}, "mark": {"type": "point", "shape": "M0,-1L0.6,-0.2L0.2,-0.2L0.2,1L-0.2,1L-0.2,-0.2L-0.6,-0.2Z", "filled": true, "size": 256, "color": "#0000ff", "opacity": 1},
   "encoding": {"x": {"field": "k", "type": "quantitative", "scale": {"domain": [-0.357, 108.786], "nice": false, "zero": false}, "axis": null},
    "y": {"datum": 16, "type": "quantitative", "axis": null}}}
 ]
}
]
}
